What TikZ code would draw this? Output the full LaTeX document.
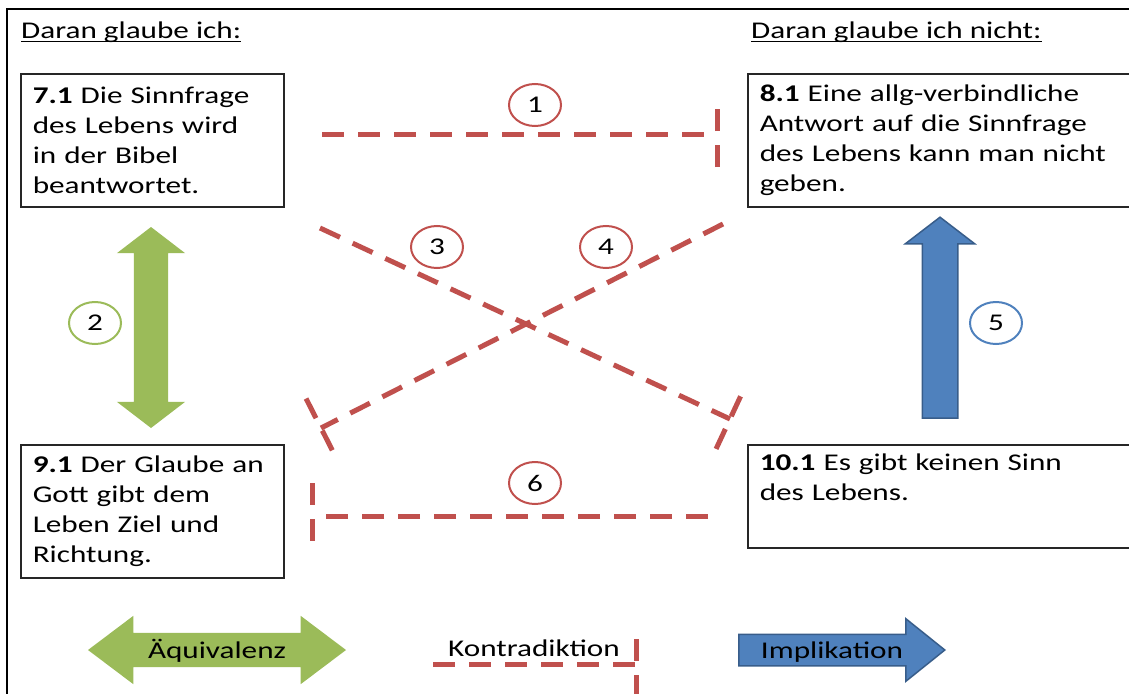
\documentclass[tikz,border=0pt]{standalone}
\usepackage{fontspec}
\setmainfont{Carlito}[FakeStretch=1.3]
\usetikzlibrary{shapes.geometric,shapes.arrows,calc}

\definecolor{contrared}{HTML}{C0504D}
\definecolor{equivgreen}{HTML}{9BBB59}
\definecolor{implblue}{HTML}{4F81BD}
\definecolor{impldark}{HTML}{385D8A}

\newcommand{\underhead}[1]{\setbox0\hbox{#1}\rlap{\rule[-4pt]{\wd0}{1.5pt}}\box0}

\tikzset{
  box/.style={draw=black!85, line width=1.5pt, anchor=north west, align=left, inner xsep=12pt, inner ysep=0pt},
  num/.style={ellipse, draw, line width=2pt, minimum width=52pt, minimum height=42pt, inner sep=0pt},
  contra/.style={draw=contrared, line width=5pt, dash pattern=on 22pt off 14pt,
    to path={-- (\tikztotarget) ($(\tikztotarget)!33pt!90:(\tikztostart)$) -- ($(\tikztotarget)!33pt!-90:(\tikztostart)$)}},
  equiv/.style={double arrow, fill=equivgreen, inner sep=0pt, double arrow head extend=17pt, minimum width=68pt},
  impl/.style={single arrow, fill=implblue, draw=impldark, line width=1.5pt, inner sep=0pt}
}

\begin{document}
\begin{tikzpicture}
  [x=1pt,y=-1pt,every node/.style={font=\fontsize{24}{30}\selectfont}]
  \useasboundingbox (0,0) rectangle (1129,693);
  \clip (0,0) rectangle (1129,693);
  \draw[line width=2pt] (7,9) rectangle (1140,710);

  % headings
  \node[anchor=base west, inner sep=0pt] (yes) at (21,38) {\underhead{Daran glaube ich:}};
  \node[anchor=base west, inner sep=0pt] (no) at (751,38) {\underhead{Daran glaube ich nicht:}};

  % statements
  \node[box, text width=239pt, minimum height=133pt] (b71) at (20,73)
    {\textbf{7.1} Die Sinnfrage\\des Lebens wird\\in der Bibel\\beantwortet.};
  \node[box, text width=362pt, minimum height=133pt] (b81) at (747,73)
    {\textbf{8.1} Eine allg-verbindliche\\Antwort auf die Sinnfrage\\des Lebens kann man nicht\\geben.};
  \node[box, text width=239pt, minimum height=133pt] (b91) at (20,444)
    {\textbf{9.1} Der Glaube an\\Gott gibt dem\\Leben Ziel und\\Richtung.};
  \node[box, text width=362pt, minimum height=103pt] (b101) at (747,444)
    {\textbf{10.1} Es gibt keinen Sinn\\des Lebens.\\\strut};

  % fat arrows
  \node[equiv, rotate=90, text height=17pt, text depth=17pt, minimum height=201pt, double arrow tip angle=105] (a2) at (151,327.5) {};
  \node[impl, rotate=90, text height=17pt, text depth=17pt, minimum height=201pt, minimum width=68pt, single arrow head extend=17pt, single arrow tip angle=105] (a5) at (940,324.5) {};

  % contradictions
  \coordinate (c1s) at (322,134);
  \coordinate (c1e) at (717,134);
  \coordinate (c3s) at (320,228);
  \coordinate (c3e) at (730,419);
  \coordinate (c4s) at (723,224);
  \coordinate (c4e) at (321,428);
  \coordinate (c6s) at (708,516);
  \coordinate (c6e) at (312,516);
  \foreach \from / \to in {c1s/c1e, c3s/c3e, c4s/c4e, c6s/c6e}
    \draw[contra] (\from) to (\to);

  % numbers
  \node[num, draw=contrared] (n1) at (535,105) {1};
  \node[num, draw=equivgreen] (n2) at (95,323) {2};
  \node[num, draw=contrared] (n3) at (437,247) {3};
  \node[num, draw=contrared] (n4) at (606,247) {4};
  \node[num, draw=implblue] (n5) at (996,323) {5};
  \node[num, draw=contrared] (n6) at (535,483) {6};

  % legend
  \node[equiv, text height=25pt, text depth=9pt, minimum height=258pt, double arrow tip angle=74] (lequiv) at (217,650) {Äquivalenz};
  \node[inner sep=0pt] (lcontra) at (534,648) {Kontradiktion};
  \coordinate (k1) at (433,664);
  \coordinate (k2) at (636,664);
  \draw[contra] (k1) to (k2);
  \node[impl, text height=23pt, text depth=7pt, minimum height=206pt, minimum width=61pt, single arrow head extend=15.5pt, single arrow tip angle=77.5] (limpl) at (832,650) {Implikation};
\end{tikzpicture}
\end{document}
